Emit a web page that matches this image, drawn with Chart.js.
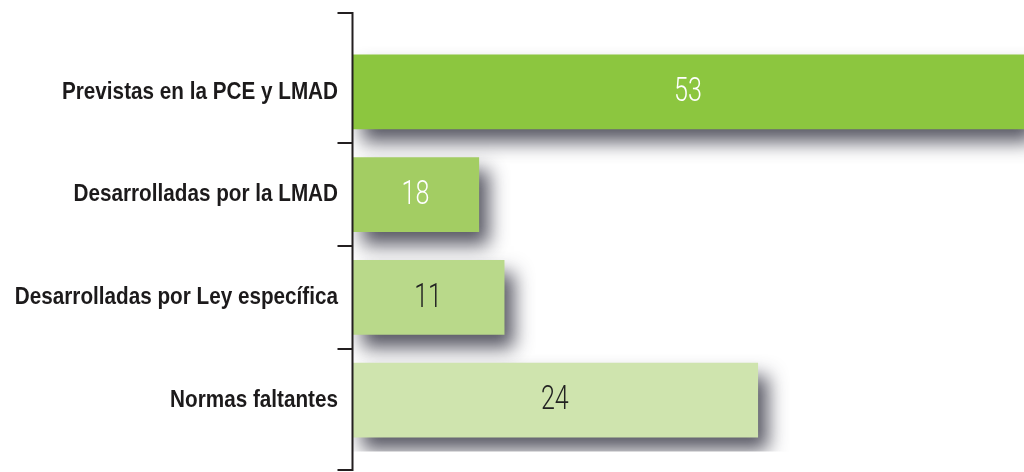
<!DOCTYPE html>
<html>
<head>
<meta charset="utf-8">
<script src="https://cdn.jsdelivr.net/npm/chart.js@4/dist/chart.umd.min.js"></script>
<style>
html,body{margin:0;padding:0;background:#fff;}
#wrap{width:1024px;height:472px;position:relative;}
</style>
</head>
<body>
<div id="wrap"><canvas id="c" width="1024" height="472"></canvas></div>
<script>
const categories = ["Previstas en la PCE y LMAD", "Desarrolladas por la LMAD", "Desarrolladas por Ley específica", "Normas faltantes"];
const valueLabels = ["53", "18", "11", "24"];
const barLengths = [53, 10, 12, 32];
const barColors = ["#8cc63f", "#a3cd63", "#b9d98a", "#cfe4ae"];
const labelColors = ["#ffffff", "#ffffff", "#222222", "#222222"];

const shadowPlugin = {
  id: 'shadow',
  beforeDatasetsDraw(chart) {
    const ctx = chart.ctx;
    ctx.save();
    ctx.shadowColor = 'rgba(45,45,60,0.8)';
    ctx.shadowBlur = 18;
    ctx.shadowOffsetX = 10;
    ctx.shadowOffsetY = 13;
  },
  afterDatasetsDraw(chart) {
    const ctx = chart.ctx;
    ctx.restore();
    const meta = chart.getDatasetMeta(0);
    ctx.save();
    ctx.font = "300 33px Roboto, 'Liberation Sans', sans-serif";
    ctx.textAlign = 'center';
    ctx.textBaseline = 'middle';
    meta.data.forEach((bar, i) => {
      const cx = (bar.base + bar.x) / 2;
      ctx.save();
      ctx.translate(cx, bar.y + 1);
      ctx.scale(0.76, 1);
      ctx.fillStyle = labelColors[i];
      ctx.fillText(valueLabels[i], 0, 0);
      ctx.restore();
    });
    ctx.restore();
  },
  afterDraw(chart) {
    const ctx = chart.ctx;
    const ys = chart.scales.y;
    const x0 = Math.round(chart.chartArea.left) + 0.5;
    const top = ys.getPixelForValue(-0.767);
    const bot = ys.getPixelForValue(3.68);
    ctx.save();
    ctx.strokeStyle = '#231f20';
    ctx.lineWidth = 2;
    ctx.beginPath();
    ctx.moveTo(x0, top);
    ctx.lineTo(x0, bot);
    [-0.767, 0.5, 1.5, 2.5, 3.68].forEach(v => {
      const y = Math.round(ys.getPixelForValue(v));
      ctx.moveTo(x0 + 1, y);
      ctx.lineTo(x0 - 15, y);
    });
    ctx.stroke();
    ctx.font = "bold 24px 'Liberation Sans', Arial, sans-serif";
    ctx.fillStyle = '#1c1a1b';
    ctx.textAlign = 'right';
    ctx.textBaseline = 'middle';
    const w0 = ctx.measureText(categories[0]).width;
    const k = 276 / w0;
    categories.forEach((c, i) => {
      const y = ys.getPixelForValue(i);
      ctx.save();
      ctx.translate(338, y);
      ctx.scale(k, 1);
      ctx.fillText(c, 0, 0);
      ctx.restore();
    });
    ctx.restore();
  }
};

new Chart(document.getElementById('c'), {
  type: 'bar',
  data: {
    labels: categories,
    datasets: [{
      data: barLengths,
      backgroundColor: barColors,
      borderWidth: 0,
      barThickness: 74
    }]
  },
  options: {
    indexAxis: 'y',
    responsive: false,
    animation: false,
    events: [],
    layout: { padding: { top: 40.5, bottom: 20.5, left: 0, right: 0 } },
    plugins: { legend: { display: false }, tooltip: { enabled: false } },
    scales: {
      x: { display: false, min: 0, max: 53 },
      y: {
        offset: true,
        grid: { display: false },
        border: { display: false },
        ticks: { display: false },
        afterFit(scale) { scale.width = 352; }
      }
    }
  },
  plugins: [shadowPlugin]
});
</script>
</body>
</html>
